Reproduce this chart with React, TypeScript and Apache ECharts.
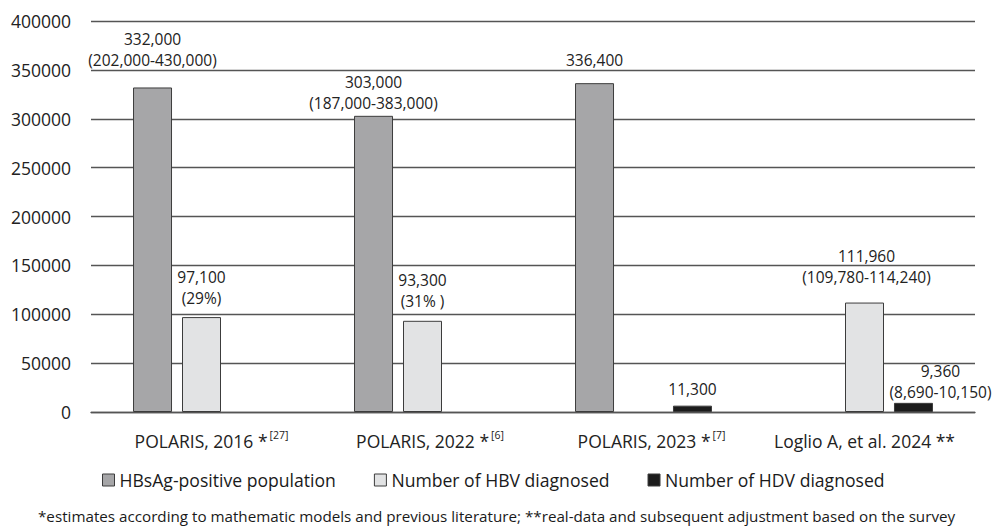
import React, { useEffect, useRef } from "react";
import * as echarts from "echarts";

const categories = ["POLARIS, 2016 *", "POLARIS, 2022 *", "POLARIS, 2023 *", "Loglio A, et al. 2024 **"];
const categoryRefs = ["[27]", "[6]", "[7]", ""];
const seriesNames = ["HBsAg-positive population", "Number of HBV diagnosed", "Number of HDV diagnosed"];
const hbsagValues = [332000, 303000, 336400, null];
const hbvValues = [97100, 93300, null, 111960];
const hdvValues = [null, null, 6500, 9360];
const hbsagLabels = ["332,000\n(202,000-430,000)", "303,000\n(187,000-383,000)", "336,400", ""];
const hbvLabels = ["97,100\n(29%)", "93,300\n(31% )", "", "111,960\n(109,780-114,240)"];
const hdvLabels = ["", "", "11,300", "9,360\n(8,690-10,150)"];
const yTicks = [0, 50000, 100000, 150000, 200000, 250000, 300000, 350000, 400000];
const footnote =
  "*estimates according to mathematic models and previous literature; **real-data and subsequent adjustment based on the survey";

// layout / style only
const FONT = "'Open Sans', sans-serif";
const labelDist = [
  [17, 2, 13, 0],
  [9, 9, 0, 15],
  [0, 0, 6, 0],
];
const labelOffX = [
  [0, 0, 0, 0],
  [0, 0, 0, 2],
  [0, 0, 0, 27],
];
const catPadLeft = [20, 15, 16, 0];

export default function App() {
  const ref = useRef<HTMLDivElement>(null);
  useEffect(() => {
    if (!ref.current) return;
    const chart = echarts.init(ref.current, null, { renderer: "svg" });
    const colors = ["#a6a6a8", "#e2e3e4", "#1c1c1c"];
    const valueSets = [hbsagValues, hbvValues, hdvValues];
    const labelSets = [hbsagLabels, hbvLabels, hdvLabels];
    const series = valueSets.map((vals, si) => ({
      type: "bar",
      name: seriesNames[si],
      barWidth: 39,
      barGap: "25.6%",
      itemStyle: { color: colors[si], borderColor: "#3c3c3c", borderWidth: 1 },
      data: vals.map((v, i) => ({
        value: v,
        label: {
          show: v != null && labelSets[si][i] !== "",
          position: "top",
          distance: labelDist[si][i],
          offset: [labelOffX[si][i], 0],
          formatter: labelSets[si][i],
          fontFamily: FONT,
          fontSize: 15.5,
          lineHeight: 21,
          color: "#222",
          align: "center",
        },
      })),
    }));
    const rich: any = {
      s: { fontFamily: FONT, fontSize: 10.5, verticalAlign: "top", lineHeight: 12, color: "#222", padding: [0, 0, 0, 2] },
    };
    catPadLeft.forEach((p, i) => {
      rich["a" + i] = { fontFamily: FONT, fontSize: 17.5, lineHeight: 24, color: "#222", padding: [0, 0, 0, p] };
    });
    chart.setOption({
      animation: false,
      grid: { left: 91, right: 18, top: 21, bottom: 116, containLabel: false },
      legend: {
        left: 97,
        top: 466,
        itemWidth: 12,
        itemHeight: 12,
        itemGap: 38,
        icon: "rect",
        itemStyle: { borderColor: "#3c3c3c", borderWidth: 1 },
        textStyle: { fontFamily: FONT, fontSize: 17.6, color: "#1a1a1a" },
        data: seriesNames,
      },
      xAxis: {
        type: "category",
        data: categories,
        axisTick: { show: false },
        axisLine: { show: true, lineStyle: { color: "#555", width: 1.4 } },
        axisLabel: {
          margin: 17,
          interval: 0,
          formatter: (v: string, i: number) =>
            `{a${i}|${v}}` + (categoryRefs[i] ? `{s|${categoryRefs[i]}}` : ""),
          rich,
        },
      },
      yAxis: {
        type: "value",
        min: yTicks[0],
        max: yTicks[yTicks.length - 1],
        interval: yTicks[1] - yTicks[0],
        axisLine: { show: false },
        axisTick: { show: false },
        splitLine: { lineStyle: { color: "#555", width: 1.4 } },
        axisLabel: {
          margin: 20,
          fontFamily: FONT,
          fontSize: 17.5,
          color: "#222",
          formatter: (v: number) => String(v),
        },
      },
      graphic: [
        {
          type: "text",
          left: 38,
          top: 508,
          style: { text: footnote, fontFamily: FONT, fontSize: 15.2, fill: "#1a1a1a" },
        },
      ],
      series,
    });
    return () => chart.dispose();
  }, []);
  return <div ref={ref} style={{ width: 993, height: 528, position: "absolute", left: 0, top: 0 }} />;
}
